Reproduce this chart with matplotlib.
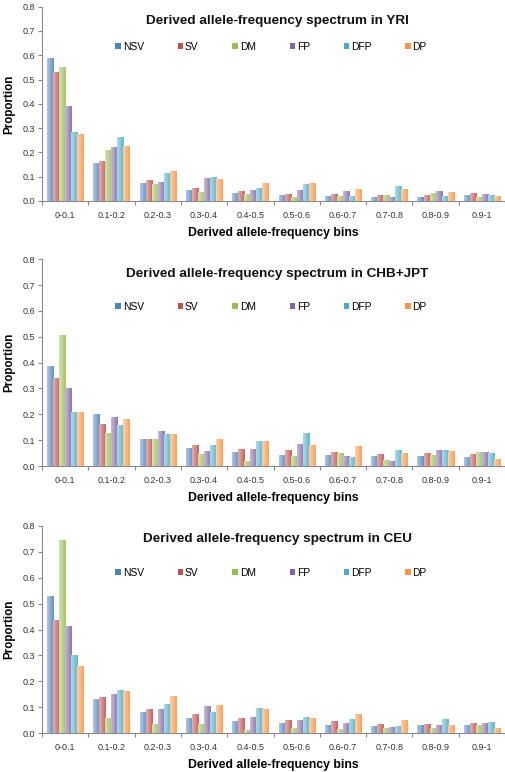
import numpy as np
import matplotlib
matplotlib.use("Agg")
import matplotlib.pyplot as plt
from matplotlib.patches import Patch
from matplotlib.colors import to_rgb

plt.rcParams['font.family'] = ['Liberation Sans', 'DejaVu Sans']

bins = ["0-0.1", "0.1-0.2", "0.2-0.3", "0.3-0.4", "0.4-0.5",
        "0.5-0.6", "0.6-0.7", "0.7-0.8", "0.8-0.9", "0.9-1"]
series = ["NSV", "SV", "DM", "FP", "DFP", "DP"]
colors = ["#4F81BD", "#C0504D", "#9BBB59", "#8064A2", "#4BACC6", "#F79646"]

# YRI
yri_NSV = [0.587, 0.157, 0.075, 0.044, 0.033, 0.023, 0.022, 0.018, 0.018, 0.025]
yri_SV  = [0.530, 0.166, 0.085, 0.052, 0.040, 0.030, 0.029, 0.025, 0.025, 0.031]
yri_DM  = [0.550, 0.212, 0.070, 0.036, 0.027, 0.016, 0.020, 0.025, 0.031, 0.016]
yri_FP  = [0.390, 0.222, 0.077, 0.095, 0.047, 0.047, 0.042, 0.018, 0.042, 0.029]
yri_DFP = [0.285, 0.263, 0.114, 0.097, 0.052, 0.068, 0.022, 0.060, 0.020, 0.023]
yri_DP  = [0.275, 0.228, 0.122, 0.089, 0.075, 0.073, 0.048, 0.048, 0.037, 0.021]

# CHB+JPT
chb_NSV = [0.386, 0.201, 0.104, 0.070, 0.055, 0.044, 0.043, 0.039, 0.037, 0.034]
chb_SV  = [0.339, 0.163, 0.104, 0.081, 0.066, 0.062, 0.053, 0.048, 0.049, 0.048]
chb_DM  = [0.507, 0.126, 0.103, 0.048, 0.019, 0.037, 0.049, 0.025, 0.043, 0.055]
chb_FP  = [0.300, 0.190, 0.137, 0.059, 0.066, 0.086, 0.040, 0.021, 0.061, 0.054]
chb_DFP = [0.208, 0.160, 0.125, 0.083, 0.097, 0.126, 0.035, 0.063, 0.063, 0.050]
chb_DP  = [0.208, 0.182, 0.125, 0.106, 0.097, 0.083, 0.079, 0.049, 0.059, 0.026]

# CEU
ceu_NSV = [0.528, 0.131, 0.081, 0.060, 0.047, 0.040, 0.033, 0.028, 0.032, 0.032]
ceu_SV  = [0.435, 0.139, 0.092, 0.073, 0.060, 0.050, 0.046, 0.037, 0.037, 0.040]
ceu_DM  = [0.746, 0.058, 0.037, 0.037, 0.013, 0.019, 0.015, 0.019, 0.019, 0.033]
ceu_FP  = [0.412, 0.150, 0.094, 0.104, 0.062, 0.051, 0.039, 0.024, 0.033, 0.039]
ceu_DFP = [0.300, 0.167, 0.112, 0.083, 0.096, 0.063, 0.056, 0.028, 0.056, 0.045]
ceu_DP  = [0.258, 0.163, 0.142, 0.108, 0.095, 0.060, 0.076, 0.051, 0.032, 0.022]

panels = [
    ("Derived allele-frequency spectrum in YRI",
     [yri_NSV, yri_SV, yri_DM, yri_FP, yri_DFP, yri_DP]),
    ("Derived allele-frequency spectrum in CHB+JPT",
     [chb_NSV, chb_SV, chb_DM, chb_FP, chb_DFP, chb_DP]),
    ("Derived allele-frequency spectrum in CEU",
     [ceu_NSV, ceu_SV, ceu_DM, ceu_FP, ceu_DFP, ceu_DP]),
]

W, H = 506, 772
fig = plt.figure(figsize=(W / 100, H / 100), dpi=100)

# axes boxes in pixels: (left, top, right, bottom)
boxes = [(42, 6.7, 505, 201), (42, 259.3, 505, 466), (42, 525.7, 505, 733.3)]
title_y = [0.928, 0.929, 0.937]
leg_y = [0.793, 0.771, 0.774]

axis_col = "#8a8a8a"
text_col = "#333333"


def mix(c, w):
    r = np.array(to_rgb(c))
    return r + (1 - r) * w


for k, ((title, data), (l, t, r, b)) in enumerate(zip(panels, boxes)):
    ax = fig.add_axes([l / W, 1 - b / H, (r - l) / W, (b - t) / H])
    x = np.arange(len(bins))
    bw = 0.13
    for i, (vals, c) in enumerate(zip(data, colors)):
        bars = ax.bar(x + (i - 2.5) * bw, vals, width=bw, color=mix(c, 0.3),
                      linewidth=0, zorder=2)
        grad = np.linspace(0, 1, 32)[None, :]
        c0, c1 = mix(c, 0.55), mix(c, 0.12)
        img = c0[None, None, :] * (1 - grad[..., None]) + c1[None, None, :] * grad[..., None]
        for p in bars:
            x0, y0 = p.get_x(), p.get_y()
            im = ax.imshow(img, extent=(x0, x0 + p.get_width(), y0, y0 + p.get_height()),
                           aspect='auto', zorder=3, interpolation='bilinear')
            im.set_clip_path(p)

    ax.set_xlim(-0.5, len(bins) - 0.5)
    ax.set_ylim(0, 0.8)
    ax.set_yticks(np.arange(0, 0.81, 0.1))
    ax.set_yticklabels([f"{v:.1f}" for v in np.arange(0, 0.81, 0.1)])
    ax.set_xticks(np.arange(len(bins) + 1) - 0.5)
    ax.set_xticklabels([])
    ax.set_xticks(x, minor=True)
    ax.set_xticklabels(bins, minor=True)
    ax.tick_params(axis='x', which='major', length=3, color=axis_col, width=0.8)
    ax.tick_params(axis='x', which='minor', length=0, pad=7, labelsize=6.5, labelcolor=text_col)
    ax.tick_params(axis='y', length=3, color=axis_col, width=0.8, pad=2,
                   labelsize=6.5, labelcolor=text_col)
    for s in ['top', 'right']:
        ax.spines[s].set_visible(False)
    for s in ['left', 'bottom']:
        ax.spines[s].set_color(axis_col)
        ax.spines[s].set_linewidth(0.8)

    ax.set_ylabel("Proportion", fontsize=8.4, fontweight='bold', labelpad=5)
    ax.set_xlabel("Derived allele-frequency bins", fontsize=8.8, fontweight='bold',
                  labelpad=5)
    ax.text(0.509, title_y[k], title, transform=ax.transAxes, ha='center', va='center',
            fontsize=9.7, fontweight='bold', color='#111111')

    handles = [Patch(facecolor=c, edgecolor='none', label=s) for s, c in zip(series, colors)]
    ax.legend(handles=handles, ncol=6, loc='center', bbox_to_anchor=(0.495, leg_y[k]),
              frameon=False, fontsize=7.4, handlelength=0.55, handleheight=0.55,
              handletextpad=0.15, columnspacing=3.3, borderpad=0)

fig.savefig("out.png", dpi=100)
